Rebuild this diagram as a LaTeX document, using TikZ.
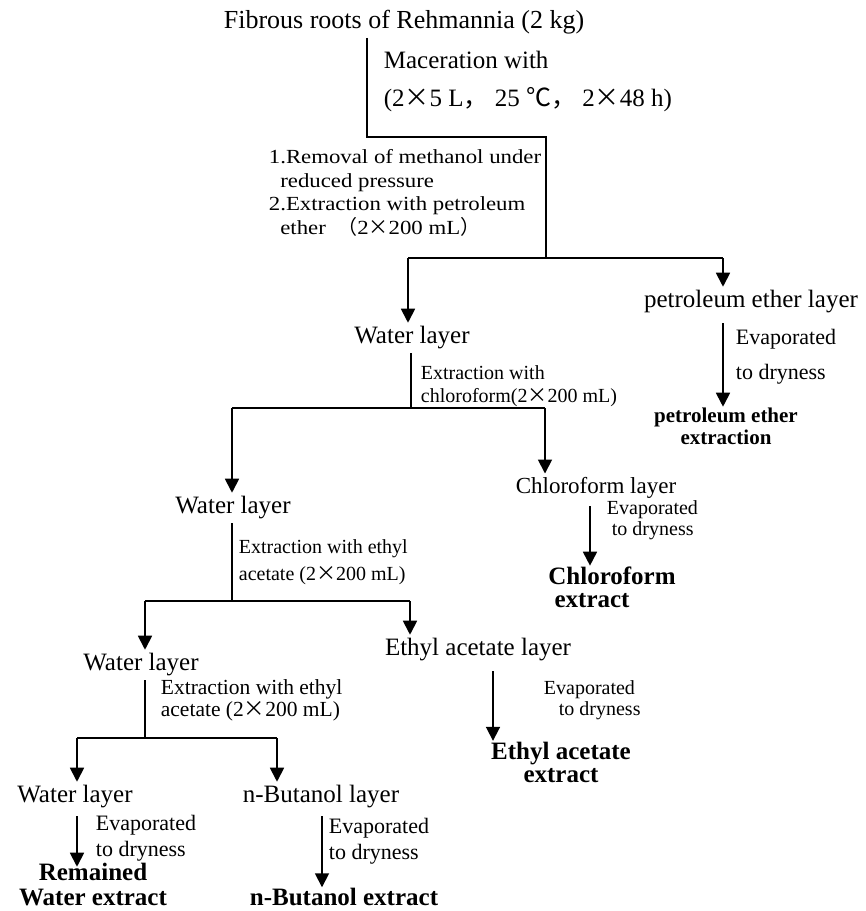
\documentclass[tikz,border=0pt]{standalone}
\usepackage{fontspec}
\setmainfont{Liberation Serif}
\newfontfamily\cjkfont{Noto Sans CJK SC}
\usetikzlibrary{arrows.meta}
\newcommand{\tms}{{\cjkfont ×}}

\begin{document}
\begin{tikzpicture}[x=1pt,y=-1pt,line width=1.8pt,
    layer/.style={font=\fontsize{25}{28}\selectfont, inner xsep=0pt, inner ysep=3pt},
    note/.style 2 args={font=\fontsize{#1}{#2}\selectfont, inner sep=0pt, anchor=west, align=left},
    product/.style 2 args={font=\fontsize{#1}{#2}\selectfont\bfseries, inner sep=0pt, align=center},
    flow/.style={-{Triangle[length=14pt,width=14pt]}}]
    \useasboundingbox (0,0) rectangle (866,911);

    % Nodes
    \node[layer, font=\fontsize{26}{28}\selectfont] (roots) at (404,22) {Fibrous roots of Rehmannia (2 kg)};
    \node[note={25}{38}] (mac) at (383,81) {Maceration with\\(2\tms5 L{\cjkfont ，} 25 {\cjkfont ℃}{\cjkfont ，} 2\tms48 h)};
    \node[note={20}{23.5}, font={\fontsize{20}{23.5}\selectfont\addfontfeatures{FakeStretch=1.14}}] (removal) at (268,193) {1.Removal of methanol under\\\ \ reduced pressure\\2.Extraction with petroleum\\\ \ ether \ {\cjkfont （}2\tms200 mL{\cjkfont ）}};
    \node[layer] (water1) at (412,338) {Water layer};
    \node[layer] (pelayer) at (751,302) {petroleum ether layer};
    \node[note={22}{35}] (evap1) at (735,357) {Evaporated\\to dryness};
    \node[product={21}{22}] (peext) at (726,426) {petroleum ether\\extraction};
    \node[note={20}{23}] (extr1) at (420,386) {Extraction with\\chloroform(2\tms200 mL)};
    \node[layer, font=\fontsize{23}{25}\selectfont] (chlayer) at (596,488) {Chloroform layer};
    \node[note={20}{21}] (evap2) at (606,520) {Evaporated\\\ to dryness};
    \node[product={25}{23}, align=left] (chext) at (612,587) {Chloroform\\\ extract};
    \node[layer] (water2) at (233,508) {Water layer};
    \node[note={20}{27}] (extr2) at (238,562) {Extraction with ethyl\\acetate (2\tms200 mL)};
    \node[layer] (water3) at (141,665) {Water layer};
    \node[layer] (ealayer) at (478,650) {Ethyl acetate layer};
    \node[note={20}{21}] (evap3) at (543,700) {Evaporated\\\ \ \ to dryness};
    \node[product={25}{23}] (eaext) at (561,762) {Ethyl acetate\\extract};
    \node[note={21.5}{22}] (extr3) at (160,700) {Extraction with ethyl\\acetate (2\tms200 mL)};
    \node[layer] (water4) at (75,797) {Water layer};
    \node[layer] (bulayer) at (321,797) {n-Butanol layer};
    \node[note={22}{26}] (evap4) at (95,838) {Evaporated\\to dryness};
    \node[note={22}{26}] (evap5) at (328,841) {Evaporated\\to dryness};
    \node[product={25}{25}] (rwext) at (93,885) {Remained\\Water extract};
    \node[product={25}{25}] (buext) at (344,897) {n-Butanol extract};

    % Junctions
    \coordinate (j1) at (367,137);
    \coordinate (j2) at (546,137);
    \coordinate (j3) at (546,258);
    \coordinate (j3l) at (408,258);
    \coordinate (j3r) at (723,258);
    \coordinate (j4) at (411,408);
    \coordinate (j4l) at (232,408);
    \coordinate (j4r) at (545,408);
    \coordinate (j5) at (232,601);
    \coordinate (j5l) at (145,601);
    \coordinate (j5r) at (410,601);
    \coordinate (j6) at (145,738);
    \coordinate (j6l) at (77,738);
    \coordinate (j6r) at (277,738);
    \coordinate (e2) at (590,0);
    \coordinate (e3) at (493,0);
    \coordinate (e5) at (322,0);

    % Arrows
    \draw[-] (roots.south -| j1) -- (j1) -- (j2) -- (j3);
    \draw[-] (j3l) -- (j3r);
    \draw[flow] (j3l) -- (water1.north -| j3l);
    \draw[flow] (j3r) -- (pelayer.north -| j3r);
    \draw[flow, shorten <=6pt] (pelayer.south -| j3r) -- (peext.north -| j3r);
    \draw[-] (water1.south -| j4) -- (j4);
    \draw[-] (j4l) -- (j4r);
    \draw[flow] (j4l) -- (water2.north -| j4l);
    \draw[flow] (j4r) -- (chlayer.north -| j4r);
    \draw[flow, shorten <=4pt] (chlayer.south -| e2) -- (chext.north -| e2);
    \draw[-] (water2.south -| j5) -- (j5);
    \draw[-] (j5l) -- (j5r);
    \draw[flow] (j5l) -- (water3.north -| j5l);
    \draw[flow] (j5r) -- (ealayer.north -| j5r);
    \draw[flow, shorten <=6pt] (ealayer.south -| e3) -- (eaext.north -| e3);
    \draw[-] (water3.south -| j6) -- (j6);
    \draw[-] (j6l) -- (j6r);
    \draw[flow] (j6l) -- (water4.north -| j6l);
    \draw[flow] (j6r) -- (bulayer.north -| j6r);
    \draw[flow, shorten <=4pt, shorten >=-4pt] (water4.south -| j6l) -- (rwext.north -| j6l);
    \draw[flow, shorten <=4pt] (bulayer.south -| e5) -- (buext.north -| e5);

\end{tikzpicture}
\end{document}
